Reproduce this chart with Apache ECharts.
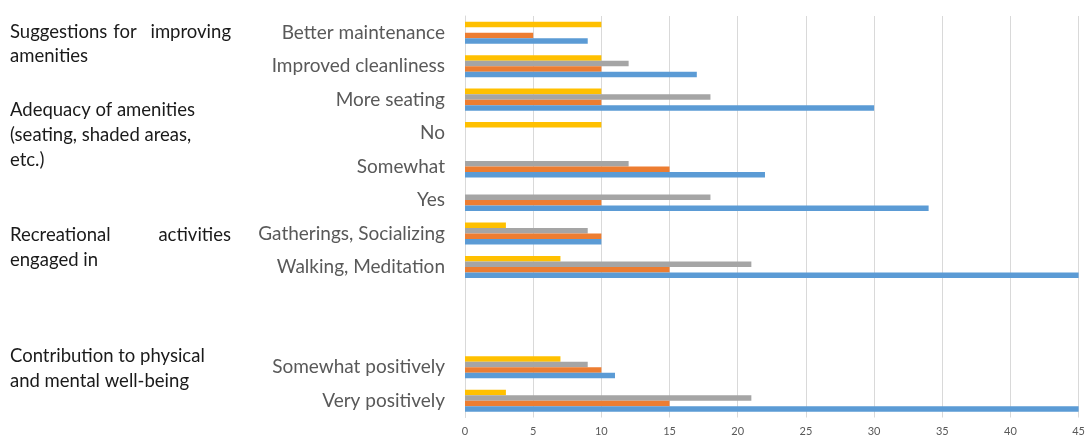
<!DOCTYPE html>
<html>
<head>
<meta charset="utf-8">
<script src="https://cdn.jsdelivr.net/npm/echarts@6/dist/echarts.min.js"></script>
<style>
  html, body { margin: 0; padding: 0; background: #fff; }
  #chart { width: 1088px; height: 437px; }
</style>
</head>
<body>
<div id="chart"></div>
<script>
// Categories listed bottom to top; two blank rows separate the last group
const categories = [
  'Very positively', 'Somewhat positively', '', ' ',
  'Walking, Meditation', 'Gatherings, Socializing',
  'Yes', 'Somewhat', 'No',
  'More seating', 'Improved cleanliness', 'Better maintenance'
];
const seriesBlue   = [45, 11, null, null, 45, 10, 34, 22, 0, 30, 17, 9];
const seriesOrange = [15, 10, null, null, 15, 10, 10, 15, 0, 10, 10, 5];
const seriesGray   = [21,  9, null, null, 21,  9, 18, 12, 0, 18, 12, 0];
const seriesYellow = [ 3,  7, null, null,  7,  3,  0,  0, 10, 10, 10, 10];
const xTicks = { min: 0, max: 45, interval: 5 };

const chart = echarts.init(document.getElementById('chart'));
const font = 'Lato, "Open Sans", sans-serif';

// Group headings on the left; justified lines are laid out word by word
const headingStyle = { fontFamily: font, fontSize: 18.5, fill: '#1a1a1a', textVerticalAlign: 'middle' };
function word(text, x, y, align) {
  return { type: 'text', x: x, y: y,
           style: Object.assign({ text: text, textAlign: align || 'left' }, headingStyle) };
}
const headings = [
  word('Suggestions', 10, 32), word('for', 125, 32, 'center'), word('improving', 231, 32, 'right'),
  word('amenities', 10, 56),
  word('Adequacy of amenities', 10, 110),
  word('(seating, shaded areas,', 10, 135),
  word('etc.)', 10, 160),
  word('Recreational', 10, 235), word('activities', 231, 235, 'right'),
  word('engaged in', 10, 260),
  word('Contribution to physical', 10, 356),
  word('and mental well-being', 10, 381)
];

function barSeries(name, data, color) {
  return { name: name, type: 'bar', data: data, barGap: '0%', barCategoryGap: '34%',
           itemStyle: { color: color }, silent: true };
}

chart.setOption({
  animation: false,
  grid: { left: 465, right: 5, top: 16, bottom: 19.5, containLabel: false },
  xAxis: {
    type: 'value', min: xTicks.min, max: xTicks.max, interval: xTicks.interval,
    axisLine: { show: false }, axisTick: { show: false },
    splitLine: { lineStyle: { color: '#d9d9d9', width: 1 } },
    axisLabel: { color: '#595959', fontFamily: font, fontSize: 11, margin: 8 }
  },
  yAxis: {
    type: 'category', data: categories,
    axisLine: { show: true, lineStyle: { color: '#d9d9d9' } },
    axisTick: { show: false },
    axisLabel: { color: '#595959', fontFamily: font, fontSize: 19, margin: 20 }
  },
  // Stacking order within each group, top to bottom
  series: [
    barSeries('Yellow', seriesYellow, '#ffc000'),
    barSeries('Gray', seriesGray, '#a5a5a5'),
    barSeries('Orange', seriesOrange, '#ed7d31'),
    barSeries('Blue', seriesBlue, '#5b9bd5')
  ],
  graphic: headings
});
</script>
</body>
</html>
